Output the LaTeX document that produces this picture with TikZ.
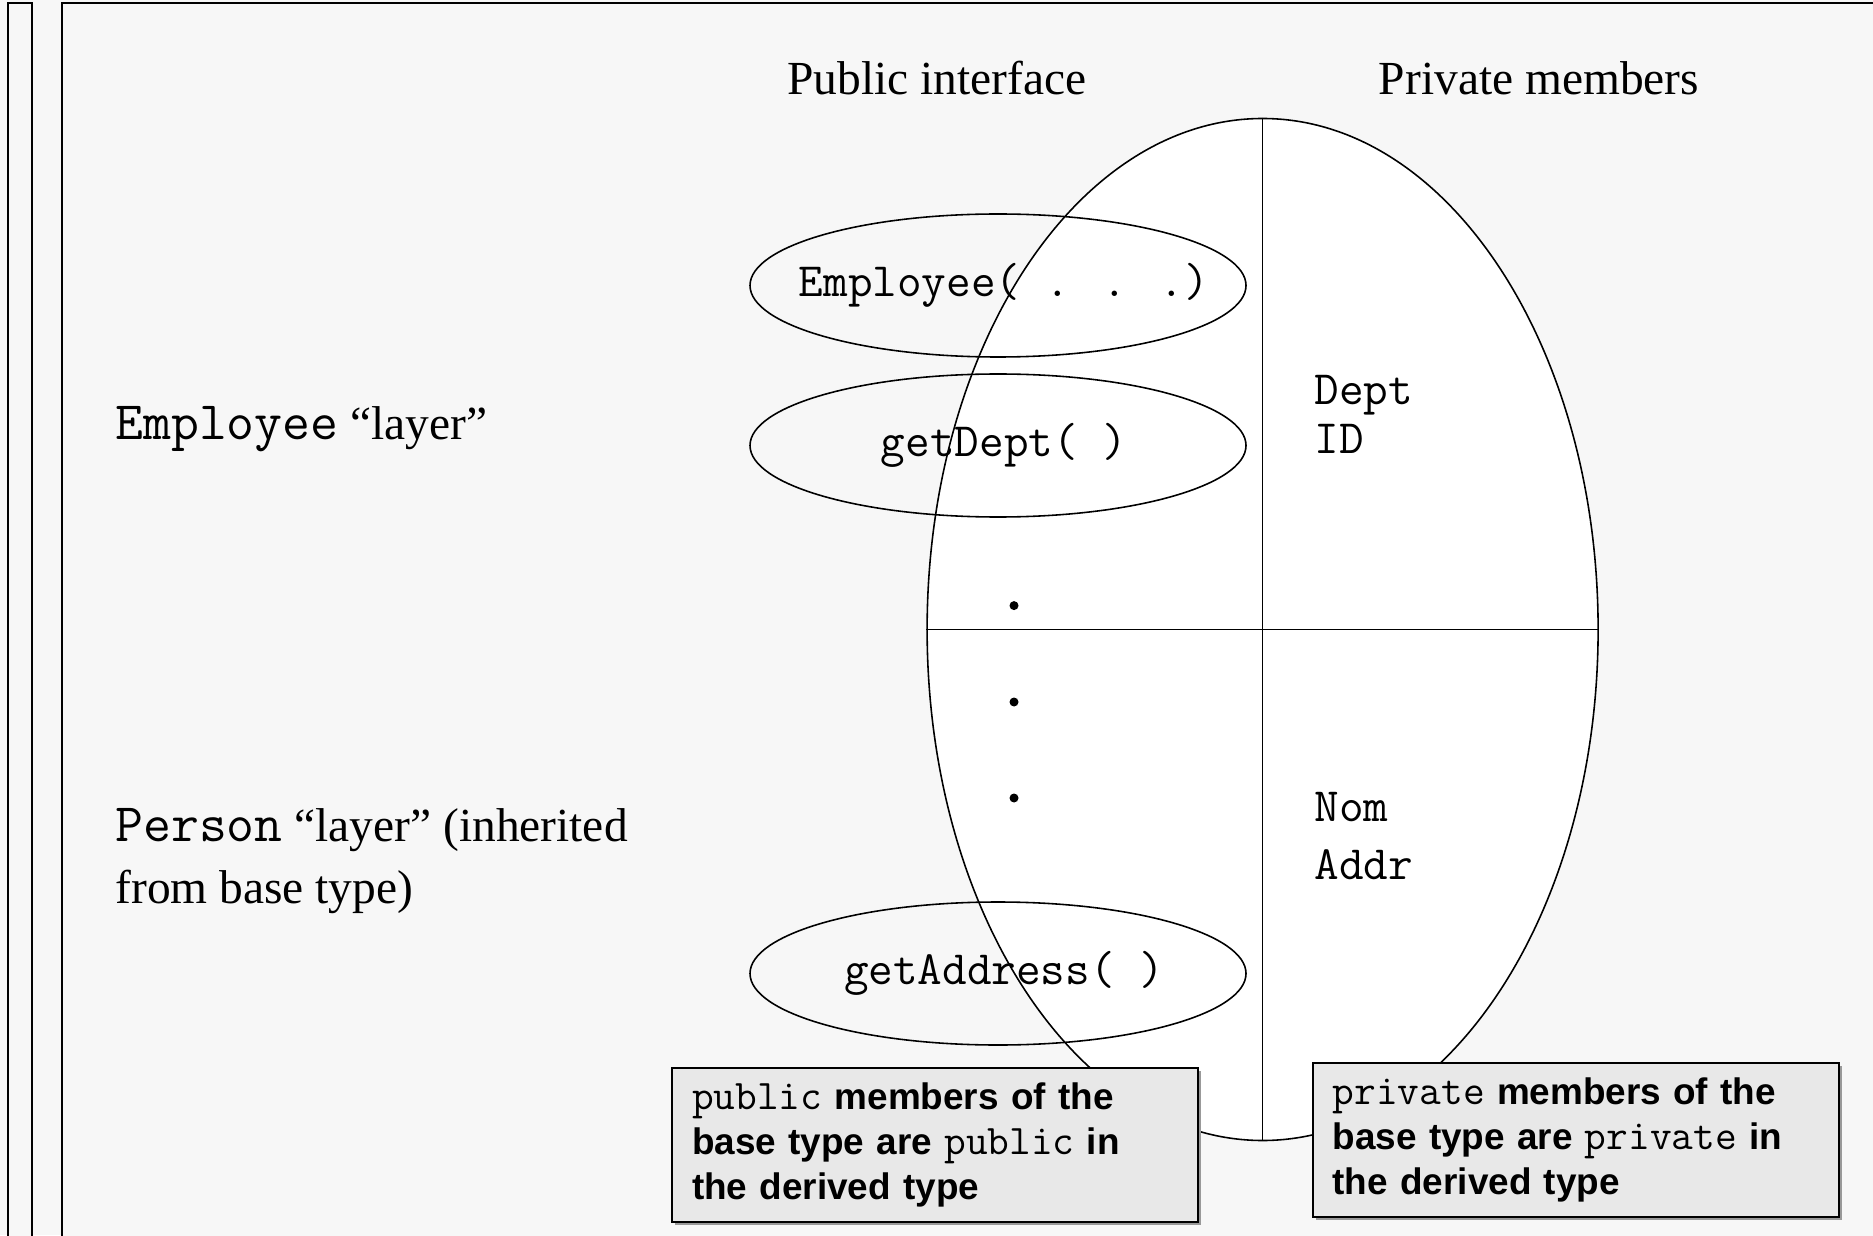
\documentclass[tikz,border=0pt]{standalone}
\usepackage{fontspec}
\setmainfont{Liberation Serif}
\setsansfont{Liberation Sans}
\usetikzlibrary{shapes.geometric,shadows}
\definecolor{slidebg}{HTML}{F7F7F7}
\definecolor{notebg}{HTML}{E8E8E8}
\newcommand{\codeword}[1]{{\normalfont\fontsize{12}{12.9}\selectfont\ttfamily #1}}
\newcommand{\layername}[1]{{\fontsize{15.4}{17.6}\selectfont\ttfamily #1}}

\begin{document}
\begin{tikzpicture}[x=0.1mm,y=-0.1mm,
    frame/.style={draw,line width=0.8pt,fill=slidebg},
    heading/.style={font=\fontsize{13.5}{16}\selectfont,anchor=base},
    layer/.style={font=\fontsize{13.5}{17.6}\selectfont,anchor=base west,align=left,inner sep=0pt},
    code/.style={font=\fontsize{13.6}{14}\selectfont\ttfamily,inner sep=0pt},
    member/.style={code,anchor=base west},
    method/.style={ellipse,draw,line width=0.45pt,minimum width=49.6mm,minimum height=14.3mm,inner sep=0pt},
    object/.style={ellipse,draw,line width=0.45pt,fill=white,minimum width=67.1mm,minimum height=102.2mm,inner sep=0pt},
    dot/.style={circle,fill,minimum size=0.9mm,inner sep=0pt},
    note/.style={draw,line width=0.6pt,fill=notebg,anchor=north west,
        minimum width=52.6mm,minimum height=15.4mm,inner xsep=2mm,text width=48.6mm,align=left,
        font=\fontsize{10.5}{12.9}\selectfont\sffamily\bfseries,
        drop shadow={shadow xshift=0.3mm,shadow yshift=-0.3mm,fill=black!40,opacity=1}}]
    \useasboundingbox (0,0) rectangle (1873,1235);
    \fill[slidebg] (0,0) rectangle (1873,1235);
    \draw[frame] (8,3) rectangle (32,1260);
    \draw[frame] (62,3) rectangle (1900,1260);

    % column headings
    \node[heading] (pub) at (937,95) {Public interface};
    \node[heading] (priv) at (1539,95) {Private members};

    % the object, split into layers
    \node[object] (obj) at (1262.6,629.5) {};
    \draw[line width=0.45pt] (obj.north) -- (obj.south);
    \draw[line width=0.45pt] (obj.west) -- (obj.east);

    \node[method] (ctor) at (998,285.5) {};
    \node[method] (getdept) at (998,445.5) {};
    \node[method] (getaddr) at (998,973.5) {};
    \node[code] (ctortxt) at ([xshift=0.6mm]ctor) {Employee( . . .)};
    \node[code] (getdepttxt) at ([xshift=0.6mm]getdept) {getDept( )};
    \node[code] (getaddrtxt) at ([xshift=0.6mm]getaddr) {getAddress( )};

    \node[dot] (dot1) at (1014,605.6) {};
    \node[dot] (dot2) at (1014,702) {};
    \node[dot] (dot3) at (1014,798) {};

    \node[member] (dept) at (1314,405) {Dept};
    \node[member] (id) at (1314,454) {ID};
    \node[member] (nom) at (1314,821) {Nom};
    \node[member] (addr) at (1314,879) {Addr};

    % layer names
    \node[layer] (emplayer) at (114.7,440) {\layername{Employee} “layer”};
    \node[layer] (perslayer) at (114.7,903) {\layername{Person} “layer” (inherited\\from base type)};

    % notes
    \node[note] (pubnote) at (671,1067) {\codeword{public} members of the\\base type are \codeword{public} in\\the derived type};
    \node[note] (privnote) at (1311.6,1062) {\codeword{private} members of the\\base type are \codeword{private} in\\the derived type};
\end{tikzpicture}
\end{document}
